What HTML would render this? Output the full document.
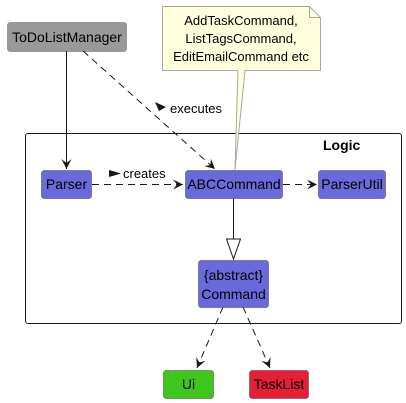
<!DOCTYPE html>
<html><head><meta charset="utf-8"><style>
html,body{margin:0;padding:0;background:#fff;width:406px;height:403px;overflow:hidden}
text{font-family:"Liberation Sans",sans-serif;font-size:13px;fill:#000}
</style></head><body>
<svg width="406" height="403" viewBox="0 0 406 403" xmlns="http://www.w3.org/2000/svg">
<defs>
<marker id="ah" markerWidth="12" markerHeight="12" refX="10" refY="5" orient="auto" markerUnits="userSpaceOnUse">
<path d="M0,0 L10,5 L0,10 L4,5 Z" fill="#181818"/></marker>
</defs>
<rect x="25.5" y="133.5" width="376" height="190" rx="2.5" fill="none" stroke="#181818" stroke-width="1"/>
<text x="323" y="150" style="font-weight:bold;font-size:14px">Logic</text>
<path d="M162.5,6.5 L309.5,6.5 L320.5,17.5 L320.5,70.5 L245,70.5 L235,170 L238,70.5 L162.5,70.5 Z" fill="#FEFFDD" stroke="#a8a8a0" stroke-width="1"/>
<path d="M309.5,6.5 L309.5,17.5 L320.5,17.5" fill="none" stroke="#a8a8a0"/>
<text x="241" y="25" text-anchor="middle">AddTaskCommand,</text>
<text x="241" y="43" text-anchor="middle">ListTagsCommand,</text>
<text x="241" y="61" text-anchor="middle">EditEmailCommand etc</text>
<rect x="7.5" y="22.5" width="119" height="29" rx="2.5" fill="#999999" stroke="#666" stroke-width="0.5"/>
<text x="67" y="42" text-anchor="middle" style="font-size:14px">ToDoListManager</text>
<line x1="66.5" y1="51" x2="66.5" y2="169" stroke="#181818" marker-end="url(#ah)"/>
<line x1="83" y1="51" x2="215" y2="169" stroke="#181818" stroke-dasharray="7,5" marker-end="url(#ah)"/>
<path d="M155,102 L166,107 L159,111 Z" fill="#181818"/>
<text x="170" y="113">executes</text>
<line x1="92" y1="184.5" x2="183" y2="184.5" stroke="#181818" stroke-dasharray="7,5" marker-end="url(#ah)"/>
<path d="M109,170 L121,173.5 L109,177 Z" fill="#181818"/>
<text x="123" y="178">creates</text>
<line x1="283" y1="184.5" x2="317" y2="184.5" stroke="#181818" stroke-dasharray="7,5" marker-end="url(#ah)"/>
<line x1="233.5" y1="198" x2="233.5" y2="239" stroke="#181818"/>
<path d="M226.5,239 L240.5,239 L233.5,259 Z" fill="#fff" stroke="#181818"/>
<line x1="223" y1="307" x2="197" y2="368" stroke="#181818" stroke-dasharray="7,5" marker-end="url(#ah)"/>
<line x1="243" y1="307" x2="270" y2="368" stroke="#181818" stroke-dasharray="7,5" marker-end="url(#ah)"/>
<rect x="41.5" y="170.5" width="50" height="28" rx="2.5" fill="#6A6ADC" stroke="#444" stroke-width="0.5"/>
<text x="66.5" y="189" text-anchor="middle" style="font-size:14px">Parser</text>
<rect x="185.5" y="170.5" width="97" height="28" rx="2.5" fill="#6A6ADC" stroke="#444" stroke-width="0.5"/>
<text x="234" y="189" text-anchor="middle" style="font-size:14px">ABCCommand</text>
<rect x="318.5" y="170.5" width="67" height="28" rx="2.5" fill="#6A6ADC" stroke="#444" stroke-width="0.5"/>
<text x="352" y="189" text-anchor="middle" style="font-size:14px">ParserUtil</text>
<rect x="198.5" y="260.5" width="70" height="47" rx="2.5" fill="#6A6ADC" stroke="#444" stroke-width="0.5"/>
<text x="233.5" y="280" text-anchor="middle" style="font-size:14px">{abstract}</text>
<text x="233.5" y="299" text-anchor="middle" style="font-size:14px">Command</text>
<rect x="163.5" y="370.5" width="50" height="28" rx="2.5" fill="#3FC61C" stroke="#444" stroke-width="0.5"/>
<text x="188.5" y="389" text-anchor="middle" style="font-size:14px">Ui</text>
<rect x="249.5" y="370.5" width="59" height="28" rx="2.5" fill="#E41F37" stroke="#444" stroke-width="0.5"/>
<text x="279" y="389" text-anchor="middle" style="font-size:14px">TaskList</text>
</svg>
</body></html>
